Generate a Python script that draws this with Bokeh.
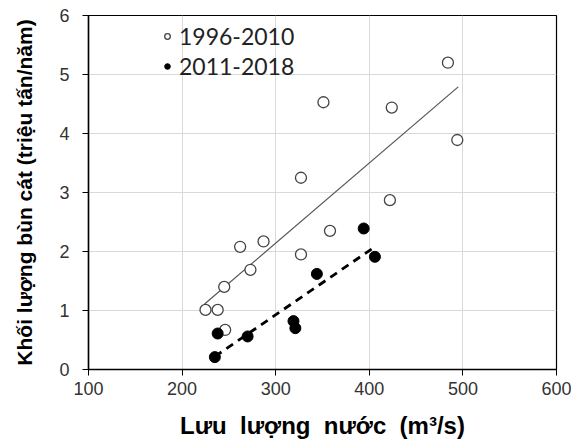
from bokeh.plotting import figure
from bokeh.models import Legend, LegendItem, Range1d, FixedTicker
from bokeh.embed import file_html
from bokeh.resources import INLINE

# 1996-2010 (open circles)
x_old = [484, 351, 424, 494, 327, 422, 358, 327, 287, 262, 273, 245, 225, 238, 246]
y_old = [5.20, 4.53, 4.44, 3.89, 3.25, 2.87, 2.35, 1.95, 2.17, 2.08, 1.69, 1.40, 1.01, 1.01, 0.67]
# 2011-2018 (filled circles)
x_new = [394, 406, 344, 319, 321, 270, 238, 235]
y_new = [2.39, 1.91, 1.62, 0.82, 0.70, 0.56, 0.61, 0.21]
# trend lines
trend_old_x = [224, 495]
trend_old_y = [1.11, 4.79]
trend_new_x = [235, 406]
trend_new_y = [0.22, 2.08]

x_ticks = [100, 200, 300, 400, 500, 600]
y_ticks = [0, 1, 2, 3, 4, 5, 6]

p = figure(width=571, height=437, output_backend="svg", toolbar_location=None,
           x_range=Range1d(100, 600), y_range=Range1d(0, 6),
           frame_width=468, frame_height=354,
           min_border_left=88, min_border_right=15, min_border_top=15, min_border_bottom=68)

p.outline_line_color = "black"
p.outline_line_width = 1.2
p.background_fill_color = "white"
p.border_fill_color = "white"

for ax in (p.xaxis[0], p.yaxis[0]):
    ax.axis_line_color = "black"
    ax.axis_line_width = 1.5
    ax.major_tick_line_color = "black"
    ax.major_tick_out = 6
    ax.major_tick_in = 0
    ax.minor_tick_line_color = None
    ax.major_label_text_font = "Liberation Sans"
    ax.major_label_text_font_size = "18px"
    ax.major_label_text_color = "#333333"
    ax.axis_label_text_font = "Liberation Sans"
    ax.axis_label_text_font_style = "bold"
    ax.axis_label_text_color = "black"

p.xaxis.axis_label_text_font_size = "24px"
p.yaxis.axis_label_text_font_size = "21px"
p.xaxis.ticker = FixedTicker(ticks=x_ticks)
p.yaxis.ticker = FixedTicker(ticks=y_ticks)
p.xaxis.axis_label = "Lưu\u00a0 lượng\u00a0 nước\u00a0 (m³/s)"
p.yaxis.axis_label = "Khối lượng bùn cát (triệu tấn/năm)"
p.xaxis.major_label_standoff = 6
p.yaxis.major_label_standoff = 13
p.xaxis.axis_label_standoff = 14
p.yaxis.axis_label_standoff = 20

p.xgrid.grid_line_color = "#d9d9d9"
p.ygrid.grid_line_color = "#d9d9d9"

p.line(trend_old_x, trend_old_y, line_color="#555555", line_width=1.2)
p.line(trend_new_x, trend_new_y, line_color="black", line_width=2.8, line_dash="8 6")

r_old = p.scatter(x_old, y_old, marker="circle", size=11, fill_color="white",
                  line_color="#444444", line_width=1.3)
r_new = p.scatter(x_new, y_new, marker="circle", size=11, fill_color="black",
                  line_color="black", line_width=1)

legend = Legend(items=[LegendItem(label="1996-2010", renderers=[r_old]),
                       LegendItem(label="2011-2018", renderers=[r_new])],
                location=(72, 289))
legend.border_line_color = None
legend.background_fill_alpha = 0
legend.padding = 0
legend.margin = 0
legend.spacing = 2
legend.glyph_width = 14
legend.glyph_height = 24
legend.label_standoff = 5
legend.label_text_font = "Lato"
legend.label_text_font_size = "23px"
legend.label_text_color = "#222222"
legend.label_height = 24
p.add_layout(legend)

open("out.html", "w").write(file_html(p, INLINE))
